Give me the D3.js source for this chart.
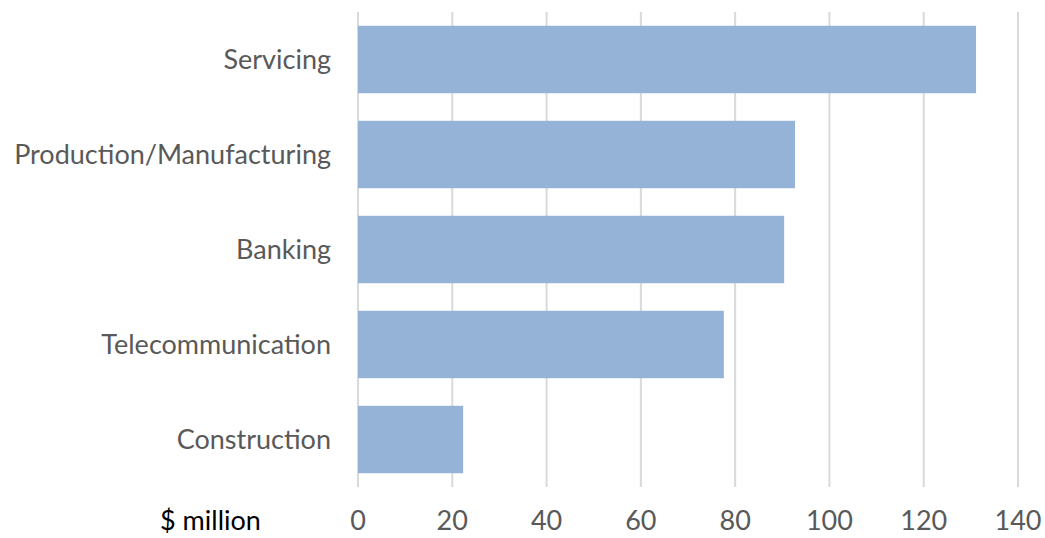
<!DOCTYPE html>
<meta charset="utf-8">
<head>
  <script src="https://cdn.jsdelivr.net/npm/d3@7/dist/d3.min.js"></script>
</head>
<style>
  body { margin: 0; background: #fff; font-family: Lato, "Open Sans", sans-serif; }
  .grid line { stroke: #d9d9d9; stroke-width: 2px; }
  .tick-label { fill: #595959; font-size: 27px; }
  .cat-label { fill: #595959; font-size: 27px; }
</style>
<body></body>
<script>
var categories = ["Servicing", "Production/Manufacturing", "Banking", "Telecommunication", "Construction"];
var values = [131.1, 92.7, 90.4, 77.6, 22.3];
var ticks = [0, 20, 40, 60, 80, 100, 120, 140];
var unitLabel = "$ million";

var width = 1045, height = 538;

var svg = d3.select("body").append("svg")
    .attr("width", width)
    .attr("height", height);

var x = d3.scaleLinear().domain([0, 140]).range([358, 1018]);
var y = d3.scaleBand().domain(categories).range([12, 487]).paddingInner(0.29).paddingOuter(0.145);

// vertical gridlines
svg.append("g").attr("class", "grid")
  .selectAll("line")
  .data(ticks)
  .enter().append("line")
    .attr("x1", function(d) { return x(d); })
    .attr("x2", function(d) { return x(d); })
    .attr("y1", 12)
    .attr("y2", 487);

// bars
svg.append("g")
  .selectAll("rect")
  .data(values)
  .enter().append("rect")
    .attr("x", x(0))
    .attr("y", function(d, i) { return y(categories[i]); })
    .attr("width", function(d) { return x(d) - x(0); })
    .attr("height", y.bandwidth())
    .style("fill", "#95b3d7");

// category labels
svg.append("g")
  .selectAll("text")
  .data(categories)
  .enter().append("text")
    .attr("class", "cat-label")
    .attr("x", 331)
    .attr("y", function(d) { return y(d) + y.bandwidth() / 2; })
    .attr("dy", "0.35em")
    .attr("text-anchor", "end")
    .text(function(d) { return d; });

// x tick labels
svg.append("g")
  .selectAll("text")
  .data(ticks)
  .enter().append("text")
    .attr("class", "tick-label")
    .attr("x", function(d) { return x(d); })
    .attr("y", 530)
    .attr("text-anchor", "middle")
    .text(function(d) { return d; });

svg.append("text")
  .attr("x", 160)
  .attr("y", 530)
  .style("font-size", "27px")
  .style("fill", "#000")
  .text(unitLabel);
</script>
</html>
